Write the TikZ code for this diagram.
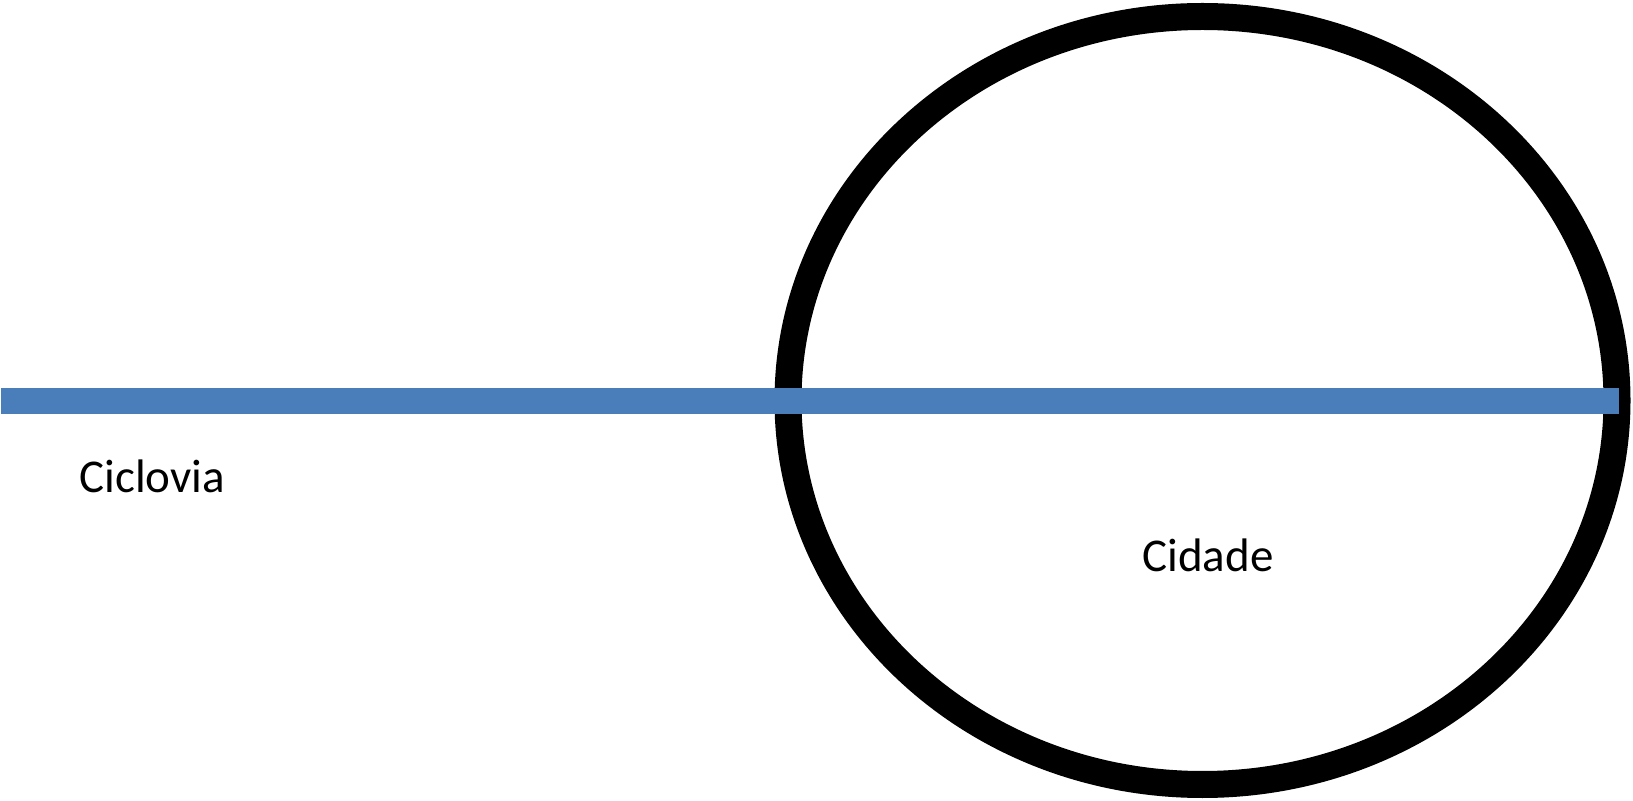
\documentclass[tikz,border=0pt]{standalone}
\usepackage{fontspec}
\setmainfont{Carlito}
\definecolor{cicloblue}{HTML}{4A7EBB}
\tikzset{
  cidadeborda/.style={draw=black, line width=13.5pt},
  ciclovialine/.style={draw=cicloblue, line width=13pt},
  rotulo/.style={inner sep=0pt, anchor=base west, font=\fontsize{23.5}{28}\selectfont}
}
\begin{document}
\begin{tikzpicture}[x=0.5pt, y=-0.5pt]
                \useasboundingbox (0,0) rectangle (1633,801);

                % city outline
                \draw[cidadeborda] (1202.5,400.5) ellipse [x radius=414.5, y radius=384];

                % bike lane
                \coordinate (inicio) at (1,401);
                \coordinate (fim) at (1619,401);
                \draw[ciclovialine] (inicio) -- (fim);

                % labels
                \node[rotulo] (ciclovia) at (79,493) {Ciclovia};
                \node[rotulo] (cidade) at (1142,572) {Cidade};
\end{tikzpicture}
\end{document}
